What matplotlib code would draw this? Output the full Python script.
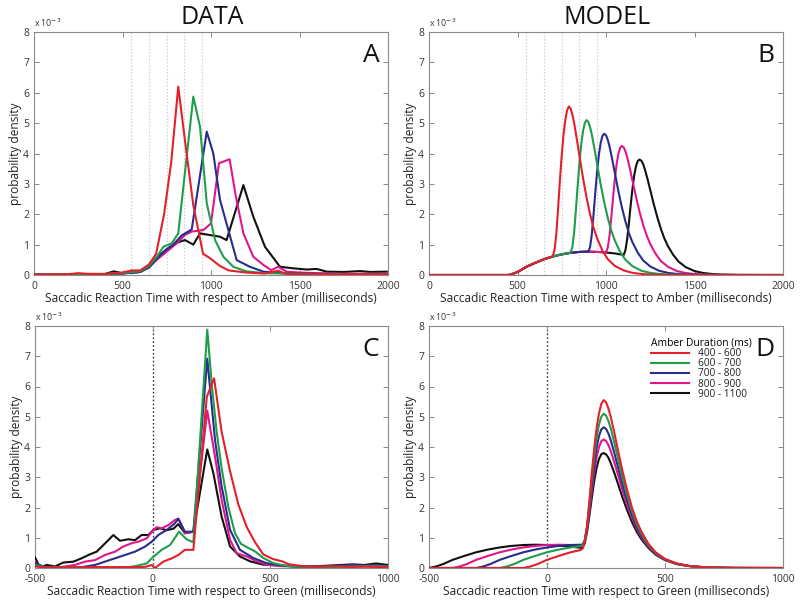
import matplotlib
matplotlib.use("Agg")
import matplotlib.pyplot as plt
import numpy as np

plt.rcParams['font.family'] = ['Open Sans', 'DejaVu Sans']

# ---------------- data (values in units of 1e-3) ----------------
series_labels = ["400 - 600", "600 - 700", "700 - 800", "800 - 900", "900 - 1100"]
series_colors = ["#e3202b", "#1e9e4a", "#2a2c8c", "#e0168c", "#111111"]
green_onsets = [550, 650, 750, 850, 950]  # dotted lines in A/B (mean green onset per group)

# Panel A (data, aligned to amber)
a_red_x = [0, 100, 200, 250, 300, 400, 450, 500, 550, 600, 650, 690, 735, 775, 815, 860, 900, 955, 995, 1050, 1100, 1200, 1300, 1380, 1420, 1500, 1600, 1700, 1800, 1900, 2000]
a_red_y = [0.02, 0.02, 0.03, 0.06, 0.04, 0.03, 0.06, 0.08, 0.15, 0.15, 0.35, 0.7, 2.0, 3.7, 6.2, 4.1, 2.3, 0.7, 0.55, 0.3, 0.15, 0.08, 0.05, 0.14, 0.04, 0.03, 0.03, 0.02, 0.03, 0.02, 0.02]
a_grn_x = [0, 100, 200, 300, 400, 500, 550, 600, 650, 700, 731, 778, 815, 900, 938, 976, 1023, 1070, 1126, 1200, 1300, 1400, 1500, 1600, 1700, 1800, 1900, 2000]
a_grn_y = [0.02, 0.02, 0.03, 0.03, 0.04, 0.06, 0.1, 0.12, 0.3, 0.65, 0.93, 1.04, 1.37, 5.87, 4.88, 2.36, 1.15, 0.6, 0.27, 0.12, 0.06, 0.05, 0.04, 0.03, 0.03, 0.03, 0.02, 0.02]
a_blu_x = [0, 100, 200, 300, 400, 500, 600, 650, 703, 750, 787, 834, 891, 976, 1013, 1051, 1098, 1145, 1220, 1296, 1400, 1500, 1600, 1700, 1800, 1900, 2000]
a_blu_y = [0.02, 0.02, 0.02, 0.03, 0.03, 0.05, 0.1, 0.25, 0.6, 0.85, 1.0, 1.3, 1.5, 4.72, 4.0, 2.47, 1.48, 0.49, 0.27, 0.11, 0.06, 0.05, 0.04, 0.04, 0.03, 0.03, 0.03]
a_mag_x = [0, 100, 200, 300, 400, 500, 600, 650, 693, 750, 806, 853, 891, 957, 1000, 1045, 1105, 1140, 1183, 1239, 1296, 1340, 1380, 1427, 1500, 1600, 1700, 1800, 1900, 2000]
a_mag_y = [0.02, 0.02, 0.02, 0.03, 0.03, 0.05, 0.1, 0.25, 0.5, 0.77, 1.04, 1.32, 1.43, 1.48, 1.7, 3.68, 3.81, 2.6, 1.37, 0.6, 0.33, 0.16, 0.27, 0.11, 0.08, 0.06, 0.05, 0.04, 0.05, 0.04]
a_blk_x = [0, 100, 200, 300, 400, 450, 500, 550, 600, 650, 700, 750, 800, 853, 900, 938, 1051, 1088, 1183, 1239, 1305, 1390, 1465, 1541, 1597, 1654, 1750, 1842, 1900, 1993]
a_blk_y = [0.02, 0.02, 0.03, 0.03, 0.03, 0.12, 0.06, 0.08, 0.1, 0.3, 0.6, 0.85, 1.05, 1.15, 1.0, 1.37, 1.26, 1.15, 2.96, 1.92, 0.93, 0.27, 0.22, 0.18, 0.2, 0.11, 0.1, 0.13, 0.1, 0.11]

# Panel C (data, aligned to green)
c_red_x = [-500, -450, -400, -350, -300, -250, -200, -150, -100, -50, -30, -4, 10, 45, 81, 109, 137, 173, 230, 261, 293, 329, 364, 400, 435, 470, 510, 550, 580, 650, 700, 750, 800, 850, 900, 950, 1000]
c_red_y = [0.05, 0.02, 0.02, 0.02, 0.02, 0.03, 0.03, 0.03, 0.03, 0.03, 0.04, 0.1, 0.0, 0.21, 0.32, 0.43, 0.6, 0.6, 5.66, 6.27, 4.5, 3.2, 2.1, 1.35, 0.85, 0.45, 0.3, 0.22, 0.12, 0.05, 0.04, 0.06, 0.05, 0.04, 0.05, 0.04, 0.03]
c_grn_x = [-500, -450, -400, -350, -300, -250, -200, -150, -100, -75, -25, -4, 38, 74, 112, 144, 173, 232, 252, 272, 293, 322, 350, 375, 407, 435, 470, 513, 560, 600, 650, 700, 750, 800, 850, 900, 950, 1000]
c_grn_y = [0.1, 0.02, 0.02, 0.02, 0.02, 0.02, 0.02, 0.02, 0.03, 0.06, 0.15, 0.32, 0.6, 0.76, 1.2, 0.95, 0.85, 7.88, 6.0, 4.5, 3.3, 2.0, 1.15, 0.8, 0.66, 0.55, 0.33, 0.16, 0.08, 0.05, 0.04, 0.04, 0.03, 0.04, 0.05, 0.06, 0.07, 0.05]
c_blu_x = [-500, -450, -400, -350, -300, -245, -203, -160, -118, -75, -32, -4, 24, 60, 95, 109, 137, 173, 232, 265, 293, 329, 371, 428, 484, 550, 600, 650, 700, 750, 800, 850, 900, 950, 1000]
c_blu_y = [0.15, 0.02, 0.02, 0.02, 0.03, 0.1, 0.21, 0.32, 0.43, 0.54, 0.71, 0.87, 1.09, 1.26, 1.48, 1.63, 1.2, 1.2, 6.92, 4.23, 2.7, 1.26, 0.6, 0.33, 0.16, 0.08, 0.05, 0.04, 0.05, 0.06, 0.08, 0.1, 0.08, 0.1, 0.06]
c_mag_x = [-500, -480, -450, -400, -330, -288, -245, -203, -160, -125, -89, -61, -25, 3, 17, 38, 67, 95, 109, 137, 173, 232, 265, 293, 329, 357, 400, 442, 484, 550, 600, 650, 700, 750, 800, 850, 900, 950, 1000]
c_mag_y = [0.21, 0.02, 0.02, 0.02, 0.1, 0.21, 0.26, 0.43, 0.54, 0.71, 0.82, 0.87, 0.98, 1.26, 1.35, 1.31, 1.42, 1.59, 1.63, 1.15, 1.2, 5.2, 3.68, 2.25, 0.93, 0.49, 0.38, 0.22, 0.11, 0.06, 0.05, 0.04, 0.05, 0.04, 0.05, 0.04, 0.05, 0.04, 0.03]
c_blk_x = [-500, -479, -450, -415, -380, -337, -302, -273, -238, -195, -167, -139, -103, -75, -47, -18, 3, 31, 60, 88, 109, 137, 173, 232, 258, 293, 329, 371, 414, 470, 550, 600, 650, 700, 750, 800, 850, 900, 950, 1000]
c_blk_y = [0.35, 0.02, 0.1, 0.05, 0.18, 0.21, 0.32, 0.43, 0.54, 0.87, 1.09, 0.9, 0.95, 0.92, 1.09, 1.09, 1.26, 1.31, 1.25, 1.3, 1.45, 1.15, 1.2, 3.92, 3.13, 1.7, 0.71, 0.38, 0.22, 0.11, 0.08, 0.06, 0.05, 0.06, 0.08, 0.1, 0.12, 0.1, 0.15, 0.1]

# Model (panel D, aligned to green). Panel B shows the same curves re-expressed
# relative to amber onset (shifted by each group's green onset).
d_red_x = [-1000, -100, -70, -40, 0, 50, 100, 140, 150, 160, 170, 180, 190, 200, 210, 220, 230, 240, 250, 260, 270, 285, 300, 320, 340, 360, 380, 400, 430, 460, 500, 550, 600, 650, 700, 800, 1000, 1500]
d_red_y = [0, 0, 0.05, 0.13, 0.27, 0.40, 0.52, 0.59, 0.63, 0.85, 1.4, 2.25, 3.15, 3.95, 4.62, 5.1, 5.42, 5.55, 5.48, 5.28, 5.0, 4.48, 3.92, 3.2, 2.56, 2.0, 1.55, 1.2, 0.8, 0.52, 0.3, 0.15, 0.07, 0.035, 0.015, 0.003, 0, 0]
d_grn_x = [-1000, -200, -170, -140, -100, -50, 0, 50, 100, 140, 150, 160, 170, 180, 190, 200, 210, 220, 230, 240, 250, 260, 270, 285, 300, 320, 340, 360, 380, 400, 430, 460, 500, 550, 600, 650, 700, 800, 1000, 1500]
d_grn_y = [0, 0, 0.05, 0.13, 0.27, 0.40, 0.52, 0.61, 0.68, 0.72, 0.74, 0.92, 1.4, 2.15, 2.95, 3.7, 4.3, 4.73, 5.0, 5.1, 5.04, 4.87, 4.62, 4.15, 3.64, 2.98, 2.39, 1.88, 1.46, 1.13, 0.76, 0.5, 0.29, 0.14, 0.07, 0.035, 0.015, 0.003, 0, 0]
d_blu_x = [-1000, -300, -270, -240, -200, -150, -100, -50, 0, 50, 100, 140, 150, 160, 170, 180, 190, 200, 210, 220, 230, 240, 250, 260, 270, 285, 300, 320, 340, 360, 380, 400, 430, 460, 500, 550, 600, 650, 700, 800, 1000, 1500]
d_blu_y = [0, 0, 0.05, 0.13, 0.27, 0.40, 0.52, 0.61, 0.68, 0.73, 0.76, 0.77, 0.77, 0.92, 1.35, 2.02, 2.75, 3.43, 3.97, 4.35, 4.58, 4.65, 4.6, 4.45, 4.23, 3.81, 3.36, 2.76, 2.22, 1.76, 1.37, 1.07, 0.73, 0.48, 0.28, 0.14, 0.07, 0.035, 0.015, 0.003, 0, 0]
d_mag_x = [-1000, -400, -370, -340, -300, -250, -200, -150, -100, -50, 0, 50, 100, 140, 150, 160, 170, 180, 190, 200, 210, 220, 230, 240, 250, 260, 270, 285, 300, 320, 340, 360, 380, 400, 430, 460, 500, 550, 600, 650, 700, 800, 1000, 1500]
d_mag_y = [0, 0, 0.05, 0.13, 0.27, 0.40, 0.52, 0.61, 0.68, 0.73, 0.76, 0.77, 0.76, 0.745, 0.75, 0.9, 1.3, 1.9, 2.55, 3.17, 3.65, 3.99, 4.19, 4.25, 4.2, 4.07, 3.87, 3.5, 3.1, 2.56, 2.07, 1.65, 1.3, 1.02, 0.7, 0.46, 0.27, 0.13, 0.065, 0.033, 0.015, 0.003, 0, 0]
d_blk_x = [-1000, -500, -470, -440, -400, -350, -300, -250, -200, -150, -100, -50, 0, 50, 100, 140, 150, 160, 170, 180, 190, 200, 210, 220, 230, 240, 250, 260, 270, 285, 300, 320, 340, 360, 380, 400, 430, 460, 500, 550, 600, 650, 700, 800, 1000, 1500]
d_blk_y = [0, 0, 0.05, 0.13, 0.27, 0.40, 0.52, 0.61, 0.68, 0.73, 0.76, 0.77, 0.76, 0.74, 0.71, 0.67, 0.66, 0.82, 1.2, 1.75, 2.33, 2.87, 3.3, 3.6, 3.76, 3.8, 3.76, 3.65, 3.47, 3.15, 2.8, 2.33, 1.9, 1.52, 1.2, 0.95, 0.66, 0.44, 0.26, 0.13, 0.065, 0.033, 0.015, 0.003, 0, 0]

a_series = [(a_red_x, a_red_y), (a_grn_x, a_grn_y), (a_blu_x, a_blu_y), (a_mag_x, a_mag_y), (a_blk_x, a_blk_y)]
c_series = [(c_red_x, c_red_y), (c_grn_x, c_grn_y), (c_blu_x, c_blu_y), (c_mag_x, c_mag_y), (c_blk_x, c_blk_y)]
d_series = [(d_red_x, d_red_y), (d_grn_x, d_grn_y), (d_blu_x, d_blu_y), (d_mag_x, d_mag_y), (d_blk_x, d_blk_y)]

# ---------------- figure ----------------
fig = plt.figure(figsize=(8.0, 6.03), dpi=100)
W, H = 800.0, 603.0

def make_ax(left, top, right, bottom):
    return fig.add_axes([left / W, 1 - bottom / H, (right - left) / W, (bottom - top) / H])

axA = make_ax(34, 32, 388, 275)
axB = make_ax(429, 32, 783, 275)
axC = make_ax(35, 326, 388, 568)
axD = make_ax(429, 326, 783, 568)

LW = 1.5
draw_order = [4, 3, 2, 1, 0]

def style(ax, xlim, xticks, xlabel, letter):
    ax.set_xlim(*xlim)
    ax.set_ylim(0, 8)
    ax.set_xticks(xticks)
    ax.set_xticklabels([str(t) for t in xticks])
    ax.set_yticks(range(0, 9))
    ax.tick_params(direction='in', top=True, right=True, length=3.5, width=0.7,
                   color='#888888', labelsize=7.5, labelcolor='#333333')
    ax.tick_params(axis='x', pad=4.6)
    ax.tick_params(axis='y', pad=3.5)
    for s in ax.spines.values():
        s.set_color('#8a8a8a')
        s.set_linewidth(0.8)
    ax.set_xlabel(xlabel, fontsize=8.6, color='#222222', labelpad=-0.5)
    ax.set_ylabel('probability density', fontsize=8.6, color='#222222', labelpad=0.5)
    ax.text(0.0, 1.012, r'x 10$^{-3}$', transform=ax.transAxes, fontsize=6.3,
            color='#333333', ha='left', va='bottom')
    ax.text(0.975, 0.955, letter, transform=ax.transAxes, fontsize=19,
            ha='right', va='top', color='#111111')

# Panel A
for g in green_onsets:
    axA.axvline(g, color='#c8c8c8', ls=':', lw=0.9, zorder=1)
for i in draw_order:
    x, y = a_series[i]
    axA.plot(x, y, color=series_colors[i], lw=LW, zorder=3)
style(axA, (0, 2000), [0, 500, 1000, 1500, 2000],
      'Saccadic Reaction Time with respect to Amber (milliseconds)', 'A')

# Panel B
for g in green_onsets:
    axB.axvline(g, color='#c8c8c8', ls=':', lw=0.9, zorder=1)
for i in draw_order:
    x, y = d_series[i]
    axB.plot(np.asarray(x) + green_onsets[i], y, color=series_colors[i], lw=LW, zorder=3)
style(axB, (0, 2000), [0, 500, 1000, 1500, 2000],
      'Saccadic Reaction Time with respect to Amber (milliseconds)', 'B')

# Panel C
axC.axvline(0, color='#333333', ls=(0, (1.2, 1.6)), lw=1.0, zorder=1)
for i in draw_order:
    x, y = c_series[i]
    axC.plot(x, y, color=series_colors[i], lw=LW, zorder=3)
style(axC, (-500, 1000), [-500, 0, 500, 1000],
      'Saccadic Reaction Time with respect to Green (milliseconds)', 'C')

# Panel D
axD.axvline(0, color='#333333', ls=(0, (1.2, 1.6)), lw=1.0, zorder=1)
lines = {}
for i in draw_order:
    x, y = d_series[i]
    lines[i], = axD.plot(x, y, color=series_colors[i], lw=LW, zorder=3)
style(axD, (-500, 1000), [-500, 0, 500, 1000],
      'Saccadic reaction Time with respect to Green (milliseconds)', 'D')
leg = axD.legend([lines[i] for i in range(5)], series_labels, title='Amber Duration (ms)',
                 loc='upper left', bbox_to_anchor=(0.625, 0.955), frameon=False,
                 fontsize=7.3, title_fontsize=7.4, handlelength=3.7, handletextpad=0.9,
                 labelspacing=-0.08, borderaxespad=0, borderpad=0.1, alignment='left')
for t in leg.get_texts():
    t.set_color('#222222')

fig.text(212 / W, 1 - 17 / H, 'DATA', fontsize=18, ha='center', va='center', color='#111111')
fig.text(607 / W, 1 - 17 / H, 'MODEL', fontsize=18, ha='center', va='center', color='#111111')

fig.savefig('out.png', dpi=100)
